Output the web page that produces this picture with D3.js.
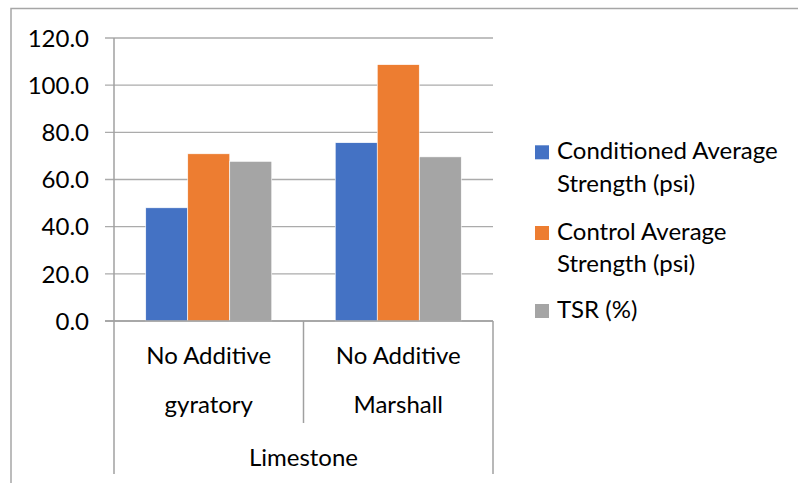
<!DOCTYPE html>
<html>
<head>
<meta charset="utf-8">
<script src="https://cdn.jsdelivr.net/npm/d3@7"></script>
<style>
  html, body { margin: 0; padding: 0; background: #fff; }
  svg text { font-family: Lato, "Open Sans", sans-serif; fill: #000; }
</style>
</head>
<body>
<svg id="chart" width="798" height="483"></svg>
<script>
// Grouped categories (two-level axis) and series values
const groups = ["No Additive gyratory", "No Additive Marshall"];
const groupLines = [["No Additive", "gyratory"], ["No Additive", "Marshall"]];
const outerCategory = "Limestone";
const seriesNames = ["Conditioned Average Strength (psi)", "Control Average Strength (psi)", "TSR (%)"];
const legendLines = [["Conditioned Average", "Strength (psi)"], ["Control Average", "Strength (psi)"], ["TSR (%)"]];
const conditioned = [48.0, 75.6];
const control = [70.9, 108.7];
const tsr = [67.7, 69.6];
const yTicks = [0, 20, 40, 60, 80, 100, 120];

const colors = ["#4472C4", "#ED7D31", "#A5A5A5"];
const seriesValues = [conditioned, control, tsr];

const svg = d3.select("#chart");
const fontSize = 24;

// Chart frame
svg.append("path")
  .attr("d", "M11,483 V8.5 H798")
  .attr("fill", "none")
  .attr("stroke", "#a6a6a6")
  .attr("stroke-width", 1.5);

const plot = { left: 114, right: 493, top: 38, bottom: 321 };

const y = d3.scaleLinear().domain([0, 120]).range([plot.bottom, plot.top]);
const x0 = d3.scaleBand().domain(groups).range([plot.left, plot.right]).padding(0);
const gap = x0.bandwidth() * 0.1675;
const x1 = d3.scaleBand().domain(seriesNames).range([gap, x0.bandwidth() - gap]).padding(0);

// Gridlines
svg.append("g")
  .selectAll("line")
  .data(yTicks)
  .join("line")
  .attr("x1", plot.left - 9)
  .attr("x2", plot.right)
  .attr("y1", d => y(d))
  .attr("y2", d => y(d))
  .attr("stroke", "#ababab")
  .attr("stroke-width", 1.3);

// Y axis labels
const yAxis = d3.axisLeft(y).tickValues(yTicks).tickFormat(d3.format(".1f")).tickSize(0).tickPadding(25);
const yg = svg.append("g").attr("transform", `translate(${plot.left},0)`).call(yAxis);
yg.select(".domain").remove();
yg.selectAll("text")
  .attr("font-size", fontSize)
  .attr("font-family", "Lato, 'Open Sans', sans-serif")
  .attr("fill", "#000")
  .attr("dy", "0.34em");

// Bars
const barGroups = svg.append("g")
  .selectAll("g")
  .data(groups)
  .join("g")
  .attr("transform", d => `translate(${x0(d)},0)`);

barGroups.selectAll("rect")
  .data((g, gi) => seriesNames.map((s, si) => ({ s, si, v: seriesValues[si][gi] })))
  .join("rect")
  .attr("x", d => x1(d.s))
  .attr("width", x1.bandwidth())
  .attr("y", d => y(d.v))
  .attr("height", d => y(0) - y(d.v))
  .attr("fill", d => colors[d.si])
  .attr("stroke", "#fff")
  .attr("stroke-width", 0.6);

// Axis lines and category dividers
const axisColor = "#a0a0a0";
svg.append("line")
  .attr("x1", plot.left).attr("x2", plot.left)
  .attr("y1", plot.top).attr("y2", 474)
  .attr("stroke", axisColor).attr("stroke-width", 1.5);
svg.append("line")
  .attr("x1", plot.right).attr("x2", plot.right)
  .attr("y1", plot.bottom).attr("y2", 474)
  .attr("stroke", axisColor).attr("stroke-width", 1.5);
svg.append("line")
  .attr("x1", x0(groups[1])).attr("x2", x0(groups[1]))
  .attr("y1", plot.bottom).attr("y2", 423)
  .attr("stroke", axisColor).attr("stroke-width", 1.5);
svg.append("line")
  .attr("x1", plot.left - 9).attr("x2", plot.right)
  .attr("y1", y(0)).attr("y2", y(0))
  .attr("stroke", axisColor).attr("stroke-width", 1.5);

// Category labels
const catLabels = svg.append("g");
groups.forEach((g, i) => {
  const cx = x0(g) + x0.bandwidth() / 2;
  groupLines[i].forEach((line, li) => {
    catLabels.append("text")
      .attr("x", cx)
      .attr("y", 364 + li * 49)
      .attr("text-anchor", "middle")
      .attr("font-size", fontSize)
      .text(line);
  });
});
catLabels.append("text")
  .attr("x", (plot.left + plot.right) / 2)
  .attr("y", 466)
  .attr("text-anchor", "middle")
  .attr("font-size", fontSize)
  .text(outerCategory);

// Legend
const legendBaselines = [[159.3, 191.7], [240, 271.7], [318]];
const legend = svg.append("g");
seriesNames.forEach((s, i) => {
  const b = legendBaselines[i];
  legend.append("rect")
    .attr("x", 535)
    .attr("y", b[0] - 14)
    .attr("width", 14)
    .attr("height", 14)
    .attr("fill", colors[i]);
  legendLines[i].forEach((line, li) => {
    legend.append("text")
      .attr("x", 557)
      .attr("y", b[li])
      .attr("font-size", fontSize)
      .text(line);
  });
});
</script>
</body>
</html>
